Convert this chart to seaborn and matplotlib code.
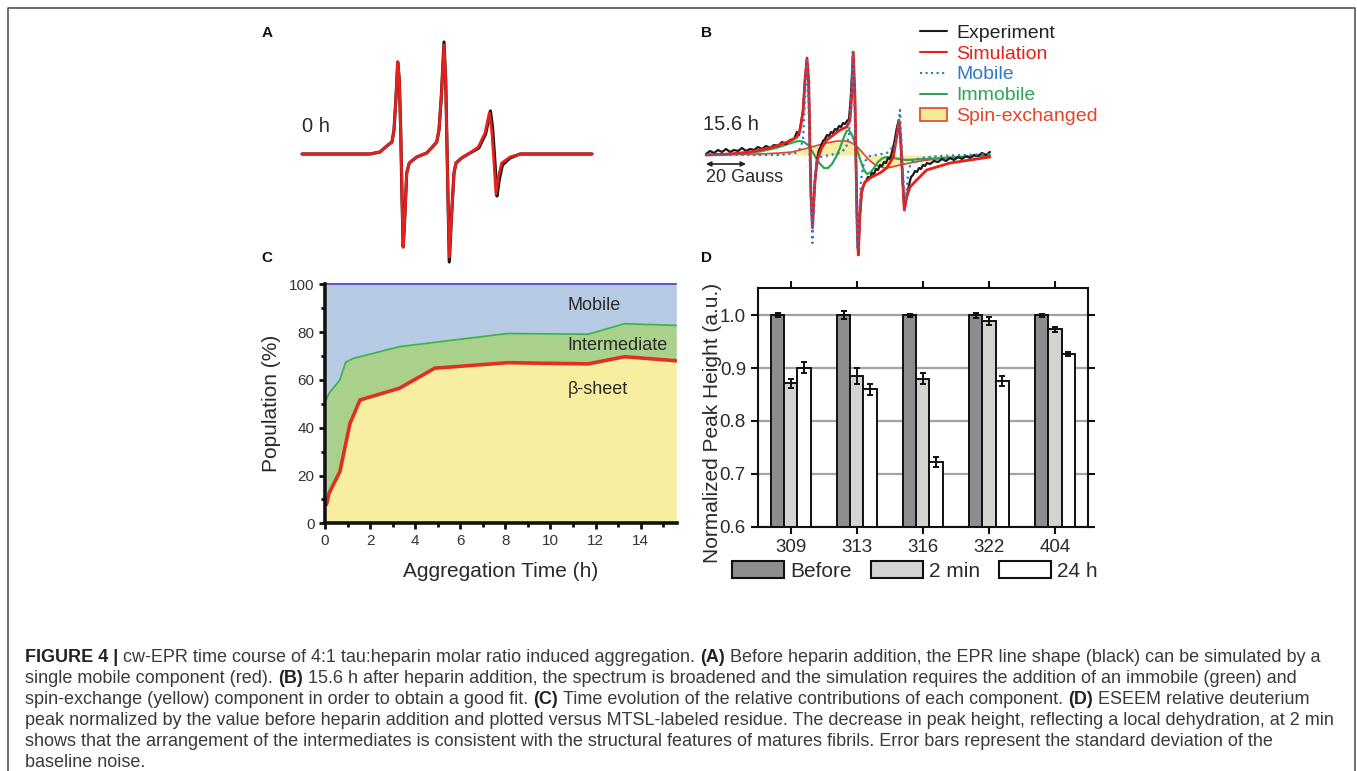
import matplotlib
matplotlib.use("Agg")
import matplotlib.pyplot as plt
import numpy as np
import pandas as pd
import seaborn as sns
from matplotlib.patches import Patch
from matplotlib.lines import Line2D

W, H = 1357, 771

# ---------------- data ----------------
# Panel A: 0 h spectrum (field in G, signal in a.u.)
fieldA_sim = [1, 35, 40, 44, 46, 47, 48, 48.85, 49.65, 50.35, 51, 51.6, 52.5, 53.35, 54.65, 58.35,
              63.35, 66.65, 68.35, 69.5, 70.65, 72, 72.85, 73.5, 74.15, 74.65, 75.85, 77, 78, 80.85,
              85, 89.15, 92.5, 94.65, 95.85, 97, 98, 99.15, 100.85, 105, 110, 146]
sigA_sim = [0, 0, 0.2, 0.9, 1.2, 2.4, 5.7, 9.2, 7.4, 2.4, -4.3, -9.3, -5.9, -1.9, -0.9, -0.3,
            0.1, 0.8, 1.2, 2.4, 5.7, 10.9, 7.4, 0.7, -5.9, -10.3, -5.9, -1.9, -0.9, -0.4,
            0.1, 0.7, 2.1, 4.1, 2.4, -0.9, -4.0, -2.3, -0.9, -0.3, 0, 0]
fieldA_exp = [1, 35, 40, 44, 46, 47, 48, 48.85, 49.65, 50.35, 51, 51.6, 52.5, 53.35, 54.65, 58.35,
              63.35, 66.65, 68.35, 69.5, 70.65, 72, 72.85, 73.5, 74.15, 74.65, 75.85, 77, 78, 80.85,
              85, 89.4, 92.8, 95.2, 96.3, 97.4, 98.5, 99.6, 101.2, 105, 110, 146]
sigA_exp = [0, 0, 0.2, 0.9, 1.2, 2.4, 5.7, 9.2, 7.4, 2.4, -4.3, -9.3, -5.9, -1.9, -0.9, -0.3,
            0.1, 0.8, 1.2, 2.4, 5.7, 11.2, 7.4, 0.7, -5.9, -10.8, -5.9, -1.9, -0.9, -0.4,
            0.1, 0.6, 2.0, 4.3, 2.6, -0.6, -4.2, -2.6, -1.1, -0.4, 0, 0]

# Panel B: 15.6 h spectrum and fit components
fieldB_sim = [3, 15, 25, 35, 45, 48.5, 50, 51.5, 52.5, 53.5, 54.35, 55, 55.5, 56.25, 57.5, 58.65,
              60.85, 63.35, 66.65, 70, 73.35, 75, 75.85, 76.65, 77.5, 78, 78.65, 79.15, 80, 80.85,
              82.5, 85.85, 90, 93.35, 96.65, 98.35, 99.5, 100.35, 101.35, 102.15, 103.35, 105,
              108.35, 113.35, 125, 135, 145]
sigB_sim = [0, 0.1, 0.3, 0.7, 1.4, 1.8, 2.5, 4.2, 7.5, 9.7, 7.5, 0.8, -4.2, -7.3, -2.5, -0.5,
            0.7, 1.5, 2.0, 2.5, 2.8, 3.5, 5.8, 10.3, 5.8, -0.8, -7.5, -10.0, -5.8, -3.5,
            -2.7, -2.2, -1.8, -1.3, -0.2, 1.8, 3.5, 1.5, -2.5, -5.5, -4.2, -3.2,
            -2.5, -1.5, -0.8, -0.5, -0.2]
fieldB_exp = [3, 5, 7, 9, 11, 13, 15, 17, 19, 21, 23, 25, 27, 29, 31, 33, 35, 37, 39, 41, 43, 45,
              47, 48.5, 49.5, 50.5, 51.5, 52.5, 53.4, 54.3, 55, 55.5, 56.2, 57.4, 58.5, 59.5, 60.5,
              61.5, 62.5, 63.5, 64.5, 65.5, 66.5, 67.5, 68.5, 69.5, 70.5, 71.5, 72.5, 73.5, 74.5,
              75.3, 76.5, 77.4, 78, 78.6, 79.1, 80, 80.8, 82, 83, 84, 85, 86, 87, 88, 89, 90, 91,
              92, 93, 94, 95, 96, 97.2, 98.3, 99.4, 100.3, 101.3, 102.1, 103.3, 104.5, 105.5,
              106.5, 107.5, 108.5, 109.5, 110.5, 111.5, 112.5, 113.5, 115, 117, 119, 121, 123,
              125, 127, 129, 131, 133, 135, 137, 139, 141, 143, 145]
sigB_exp = [0.1, 0.4, 0.2, 0.5, 0.3, 0.6, 0.3, 0.5, 0.4, 0.7, 0.4, 0.6, 0.5, 0.8, 0.6, 0.9, 0.7,
            1.0, 0.9, 1.3, 1.1, 1.5, 1.6, 2.3, 2.0, 3.2, 4.5, 7.5, 9.3, 7.2, 0.8, -4.0, -7.0,
            -2.8, -0.4, 0.5, 0.9, 1.4, 1.6, 2.0, 1.9, 2.3, 2.2, 2.6, 2.5, 2.9, 2.8, 3.2, 3.1,
            3.4, 3.6, 5.5, 10.0, 5.8, -0.8, -7.5, -10.0, -6.0, -3.8, -2.9, -2.6, -2.2, -2.3,
            -1.8, -1.9, -1.4, -1.5, -1.0, -1.1, -0.7, -0.8, -0.3, -0.4, 0.3, 1.3, 2.6, 3.5,
            1.5, -2.5, -5.2, -4.3, -3.0, -2.2, -2.0, -1.6, -1.7, -1.3, -1.4, -1.0, -1.1, -0.8,
            -0.9, -0.6, -0.7, -0.4, -0.6, -0.3, -0.5, -0.2, -0.4, -0.1, -0.3, 0.0, -0.1, 0.2,
            0.0, 0.3]
fieldB_mob = [3, 40, 47.5, 50, 51.5, 52.5, 53.35, 54.25, 55, 55.75, 56.25, 57, 58, 60, 65, 70,
              73, 74.5, 75.5, 76.35, 77.25, 78, 78.65, 79.5, 80.5, 82, 85, 93.5, 97.5, 98.85, 100,
              100.85, 102, 103, 104.15, 105.85, 110, 120, 145]
sigB_mob = [0, 0, 0.2, 0.6, 1.5, 5.5, 9.7, 5.5, -1.5, -6.0, -8.8, -4.5, -1.0, -0.2, 0, 0.2,
            0.7, 2.0, 5.5, 10.3, 5.5, -2.5, -9.2, -6.5, -2.5, -0.7, -0.1, 0.2, 1.0, 2.5, 4.5,
            0.8, -3.5, -4.5, -1.5, -0.7, -0.3, -0.1, 0.1]
fieldB_imm = [3, 20, 30, 38, 44, 48, 50, 52, 54, 56, 58, 60, 62, 64, 66, 68, 70, 72, 73.3, 74.5,
              76, 78, 80, 82, 83.5, 85, 87, 89, 91, 93, 95, 98, 103, 113, 130, 145]
sigB_imm = [0, 0.15, 0.35, 0.7, 1.1, 1.35, 1.4, 1.3, 1.0, 0.4, -0.3, -0.9, -1.3, -1.3, -0.9,
            -0.2, 0.7, 1.8, 2.4, 2.5, 2.0, 0.9, -0.4, -1.5, -1.9, -1.8, -1.3, -0.7, -0.35, -0.2,
            -0.25, -0.35, -0.5, -0.4, -0.2, 0]
fieldB_spin = [3, 30, 40, 46, 54, 62, 68, 72, 75, 78, 81, 84, 87, 90, 93, 96, 100, 105, 112,
               122, 135, 145]
sigB_spin = [0, 0.1, 0.2, 0.3, 0.7, 1.15, 1.38, 1.42, 1.3, 0.95, 0.3, -0.4, -0.9, -1.2, -1.3,
             -1.2, -1.0, -0.8, -0.55, -0.3, -0.15, -0.1]

# Panel C: population (%) vs aggregation time (h)
time_h = [0.07, 0.18, 0.66, 0.92, 1.11, 1.26, 1.55, 3.3, 4.87, 8.1, 11.67, 13.29, 15.58]
beta_sheet = [7.9, 12.6, 21.6, 33.3, 41.8, 45.1, 51.6, 56.5, 64.9, 67.2, 66.7, 69.7, 68.0]
beta_plus_intermediate = [52.0, 54.4, 60.0, 67.4, 68.3, 69.0, 69.7, 73.9, 75.7, 79.4, 79.1, 83.5, 82.8]
total = [100] * len(time_h)

# Panel D: normalized ESEEM peak height
residues = ["309", "313", "316", "322", "404"]
conditions = ["Before", "2 min", "24 h"]
before = [1.0, 1.0, 1.0, 1.0, 1.0]
before_err = [0.004, 0.007, 0.003, 0.005, 0.003]
min2 = [0.871, 0.885, 0.880, 0.989, 0.973]
min2_err = [0.009, 0.015, 0.010, 0.007, 0.005]
h24 = [0.901, 0.860, 0.722, 0.876, 0.926]
h24_err = [0.010, 0.010, 0.009, 0.009, 0.004]

# ---------------- style ----------------
sns.set_theme(style="ticks")
plt.rcParams["font.family"] = ["Liberation Sans", "DejaVu Sans"]
plt.rcParams["text.color"] = "#2a2a2a"

fig = plt.figure(figsize=(W / 100, H / 100), dpi=100)
fig.patch.set_facecolor("white")


def rect(x0, y0, x1, y1):
    return [x0 / W, 1 - y1 / H, (x1 - x0) / W, (y1 - y0) / H]


# outer frame
fig.add_artist(Line2D([8 / W, 8 / W, 1355 / W, 1355 / W], [0, 1 - 8 / H, 1 - 8 / H, 0],
                      transform=fig.transFigure, color="#555555", lw=1.2))

# panel letters
for lab, (px, py) in {"A": (267, 33), "B": (706, 33), "C": (267, 258), "D": (706, 258)}.items():
    fig.text(px / W, 1 - py / H, lab, fontsize=11, fontweight="bold", ha="center", va="center",
             color="#111111")

RED = "#e8201c"
BLUE = "#3478c4"
GREEN = "#2ea455"
SPIN_EDGE = "#e2452a"
YELLOW = "#f6ec98"

# ---------------- Panel A ----------------
axA = fig.add_axes(rect(300, 30, 600, 270))
axA.set_xlim(0, 150)
axA.set_ylim(-11.6, 12.4)
axA.axis("off")
sns.lineplot(x=fieldA_exp, y=sigA_exp, ax=axA, color="#1a1a1a", lw=2.3, sort=False,
             estimator=None, solid_joinstyle="round")
sns.lineplot(x=fieldA_sim, y=sigA_sim, ax=axA, color=RED, lw=2.0, sort=False,
             estimator=None, solid_joinstyle="round")
axA.text(1, 2.7, "0 h", fontsize=14.5, ha="left", va="center", color="#2a2a2a")

# ---------------- Panel B ----------------
axB = fig.add_axes(rect(700, 30, 1000, 270))
axB.set_xlim(0, 150)
axB.set_ylim(-11.5, 12.5)
axB.axis("off")
axB.fill_between(fieldB_spin, sigB_spin, 0, color=YELLOW, lw=0, alpha=0.9)
sns.lineplot(x=fieldB_spin, y=sigB_spin, ax=axB, color=SPIN_EDGE, lw=1.2, sort=False, estimator=None)
sns.lineplot(x=fieldB_imm, y=sigB_imm, ax=axB, color=GREEN, lw=1.6, sort=False, estimator=None)
sns.lineplot(x=fieldB_exp, y=sigB_exp, ax=axB, color="#1a1a1a", lw=1.6, sort=False, estimator=None)
sns.lineplot(x=fieldB_sim, y=sigB_sim, ax=axB, color=RED, lw=2.0, sort=False, estimator=None,
             solid_joinstyle="round")
sns.lineplot(x=fieldB_mob, y=sigB_mob, ax=axB, color=BLUE, lw=1.6, sort=False, estimator=None,
             linestyle=":")
axB.text(1.5, 3.0, "15.6 h", fontsize=14.5, ha="left", va="center", color="#2a2a2a")
axB.annotate("", xy=(3, -0.9), xytext=(23, -0.9),
             arrowprops=dict(arrowstyle="<|-|>", color="#222222", lw=1.2, mutation_scale=7,
                             shrinkA=0, shrinkB=0))
axB.text(3, -2.2, "20 Gauss", fontsize=13, ha="left", va="center", color="#2a2a2a")

legB_handles = [Line2D([], [], color="#1a1a1a", lw=1.5),
                Line2D([], [], color=RED, lw=1.5),
                Line2D([], [], color=BLUE, lw=1.5, ls=":"),
                Line2D([], [], color=GREEN, lw=1.5),
                Patch(facecolor=YELLOW, edgecolor=SPIN_EDGE, lw=1.2)]
legB_labels = ["Experiment", "Simulation", "Mobile", "Immobile", "Spin-exchanged"]
legB_colors = ["#222222", RED, BLUE, GREEN, SPIN_EDGE]
legB = fig.legend(legB_handles, legB_labels, loc="upper left", bbox_to_anchor=(920 / W, 1 - 24 / H),
                  frameon=False, fontsize=14, handlelength=1.4, handleheight=0.7, handletextpad=0.45,
                  labelspacing=0.17, borderpad=0, borderaxespad=0)
for t, c in zip(legB.get_texts(), legB_colors):
    t.set_color(c)

# ---------------- Panel C ----------------
axC = fig.add_axes(rect(325, 284.3, 676.7, 523.3))
axC.set_xlim(0, 15.6)
axC.set_ylim(0, 100)
axC.fill_between(time_h, 0, beta_sheet, color="#f7ee9f", lw=0)
axC.fill_between(time_h, beta_sheet, beta_plus_intermediate, color="#a9d18c", lw=0)
axC.fill_between(time_h, beta_plus_intermediate, total, color="#b6cae4", lw=0)
sns.lineplot(x=time_h, y=total, ax=axC, color="#5c5cc4", lw=1.5, sort=False, estimator=None,
             clip_on=False)
sns.lineplot(x=time_h, y=beta_plus_intermediate, ax=axC, color="#3db54a", lw=1.3, sort=False,
             estimator=None)
sns.lineplot(x=time_h, y=beta_sheet, ax=axC, color="#e2301e", lw=2.6, sort=False, estimator=None)
for s in ["top", "right"]:
    axC.spines[s].set_visible(False)
for s in ["left", "bottom"]:
    axC.spines[s].set_linewidth(2.6)
    axC.spines[s].set_color("#111111")
axC.set_xticks(range(0, 16, 2))
axC.set_xticks(range(1, 16, 2), minor=True)
axC.set_yticks(range(0, 101, 20))
axC.set_yticks(range(10, 100, 20), minor=True)
axC.tick_params(which="major", direction="out", length=4, width=2, labelsize=11,
                labelcolor="#333333", color="#111111")
axC.tick_params(which="minor", direction="out", length=3, width=2, color="#111111")
axC.set_xlabel("Aggregation Time (h)", fontsize=15, labelpad=10, color="#2a2a2a")
axC.set_ylabel("Population (%)", fontsize=15, labelpad=6, color="#2a2a2a")
axC.text(10.77, 91.3, "Mobile", fontsize=13, ha="left", va="center", color="#2a2a2a")
axC.text(10.77, 74.6, "Intermediate", fontsize=13, ha="left", va="center", color="#2a2a2a")
axC.text(10.77, 55.8, "β-sheet", fontsize=13, ha="left", va="center", color="#2a2a2a")

# ---------------- Panel D ----------------
axD = fig.add_axes(rect(757.7, 287.7, 1088, 526.7))
dfD = pd.DataFrame({
    "residue": residues * 3,
    "condition": ["Before"] * 5 + ["2 min"] * 5 + ["24 h"] * 5,
    "value": before + min2 + h24,
})
errD = {"Before": before_err, "2 min": min2_err, "24 h": h24_err}
palD = {"Before": "#8b8d8f", "2 min": "#d5d3d1", "24 h": "#ffffff"}
axD.set_axisbelow(True)
axD.yaxis.grid(True, color="#a3a3a3", lw=1.6)
sns.barplot(data=dfD, x="residue", y="value", hue="condition", order=residues,
            hue_order=conditions, palette=palD, width=0.6, edgecolor="#111111", linewidth=1.4,
            errorbar=None, saturation=1, legend=False, ax=axD)
for cont, cond in zip(axD.containers, conditions):
    for bar, e in zip(cont, errD[cond]):
        axD.errorbar(bar.get_x() + bar.get_width() / 2, bar.get_height(), yerr=e,
                     color="#111111", lw=1.4, capsize=2.5, capthick=1.4, zorder=5)
axD.set_xlim(-0.5, 4.5)
axD.set_ylim(0.6, 1.052)
axD.set_yticks([0.6, 0.7, 0.8, 0.9, 1.0])
axD.set_yticklabels(["0.6", "0.7", "0.8", "0.9", "1.0"])
for s in axD.spines.values():
    s.set_visible(True)
    s.set_linewidth(1.5)
    s.set_color("#111111")
axD.tick_params(top=True, right=True, direction="out", length=5, width=1.5, labelsize=13.5,
                labelcolor="#2a2a2a", color="#111111")
axD.set_xlabel("")
axD.set_ylabel("Normalized Peak Height (a.u.)", fontsize=15, color="#2a2a2a")
axD.yaxis.set_label_coords(-0.108, 0.436)
legD = fig.legend([Patch(facecolor=palD[c], edgecolor="#111111", lw=1.5) for c in conditions],
                  conditions, loc="upper left", bbox_to_anchor=(732 / W, 1 - 561 / H), ncol=3,
                  frameon=False, fontsize=15, handlelength=2.5, handleheight=0.9,
                  handletextpad=0.3, columnspacing=0.9, borderpad=0, borderaxespad=0)

# ---------------- caption ----------------
caption = [
    [("FIGURE 4 |", True), (" cw-EPR time course of 4:1 tau:heparin molar ratio induced aggregation. ", False),
     ("(A)", True), (" Before heparin addition, the EPR line shape (black) can be simulated by a", False)],
    [("single mobile component (red). ", False), ("(B)", True),
     (" 15.6 h after heparin addition, the spectrum is broadened and the simulation requires the addition of an immobile (green) and", False)],
    [("spin-exchange (yellow) component in order to obtain a good fit. ", False), ("(C)", True),
     (" Time evolution of the relative contributions of each component. ", False), ("(D)", True),
     (" ESEEM relative deuterium", False)],
    [("peak normalized by the value before heparin addition and plotted versus MTSL-labeled residue. The decrease in peak height, reflecting a local dehydration, at 2 min", False)],
    [("shows that the arrangement of the intermediates is consistent with the structural features of matures fibrils. Error bars represent the standard deviation of the", False)],
    [("baseline noise.", False)],
]
renderer = fig.canvas.get_renderer()


def twidth(s, size, bold=False):
    t = fig.text(0, 0, s, fontsize=size, fontweight="bold" if bold else "normal")
    w = t.get_window_extent(renderer).width
    t.remove()
    return w


ref = caption[3][0][0]
cap_size = 11.5 * 1308 / twidth(ref, 11.5)
space_w = twidth("a a", cap_size) - twidth("aa", cap_size)
x_start = 25
line_y = [662, 683, 704, 725, 746, 767]
for line, yb in zip(caption, line_y):
    x = x_start
    for txt, bold in line:
        if txt.startswith(" "):
            x += space_w
        core = txt.strip()
        t = fig.text(x / W, 1 - yb / H, core, fontsize=cap_size,
                     fontweight="bold" if bold else "normal",
                     color="#222222" if bold else "#3a3a3a", ha="left", va="baseline")
        x += t.get_window_extent(renderer).width
        if txt.endswith(" "):
            x += space_w

fig.savefig("out.png", dpi=100)
